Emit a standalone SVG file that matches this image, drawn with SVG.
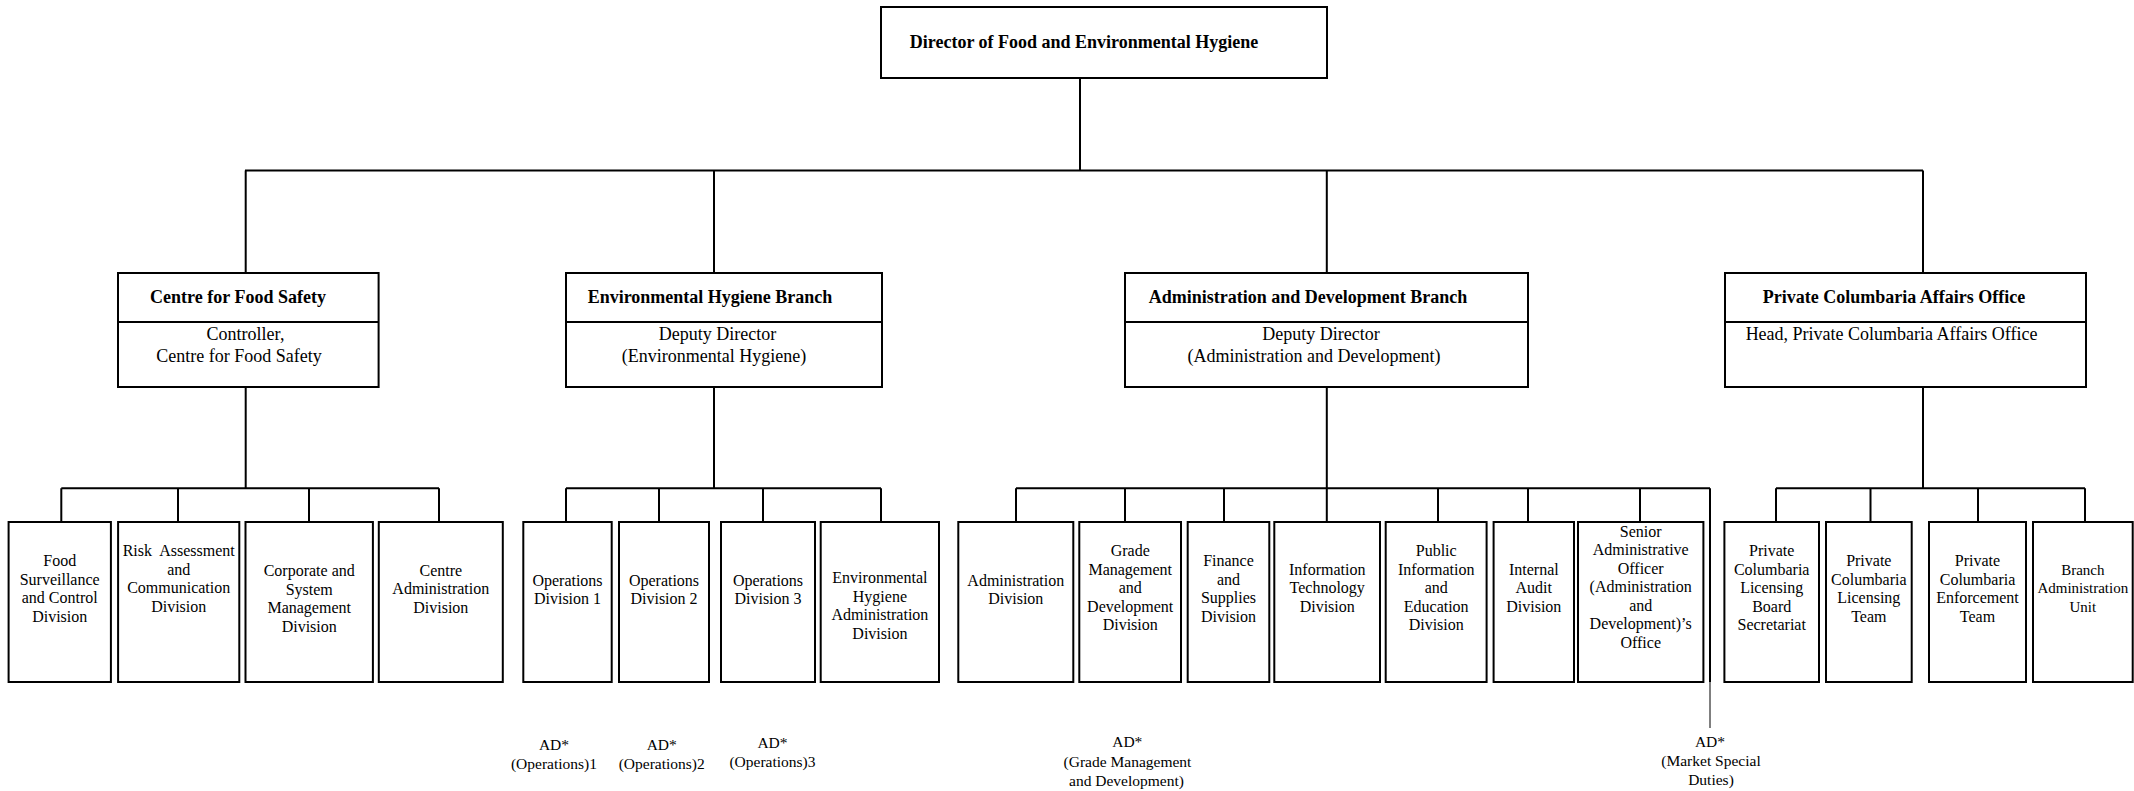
<svg xmlns="http://www.w3.org/2000/svg" width="2134" height="791" viewBox="0 0 2134 791">
<style>
.box{fill:#fff;stroke:#000;stroke-width:2}
.ln{fill:none;stroke:#000;stroke-width:2}
.thin{fill:none;stroke:#000;stroke-width:1}
text{font-family:"Liberation Serif","Times New Roman",serif;fill:#000;text-anchor:middle}
.t{font-size:18px;font-weight:bold}
.s{font-size:18px}
.d{font-size:16px}
.b{font-size:15px}
.a{font-size:15.5px}
</style>
<rect width="2134" height="791" fill="#fff"/>
<g id="connectors">
<path class="ln" d="M1080,78V170.5M245,170.5H1923M245.7,170.5V273M714,170.5V273M1326.8,170.5V273M1923,170.5V273"/>
<path class="ln" d="M245.7,387V488.3M61.3,488.3H439M61.3,488.3V522M178,488.3V522M309,488.3V522M439,488.3V522"/>
<path class="ln" d="M714,387V488.3M566,488.3H881M566,488.3V522M659,488.3V522M763,488.3V522M881,488.3V522"/>
<path class="ln" d="M1326.8,387V522M1016,488.3H1710M1016,488.3V522M1125,488.3V522M1224,488.3V522M1438,488.3V522M1528,488.3V522M1640,488.3V522M1710,488.3V682"/>
<path class="thin" d="M1710,682V728"/>
<path class="ln" d="M1923,387V488.3M1776,488.3H2085M1776,488.3V522M1870.5,488.3V522M1978,488.3V522M2085,488.3V522"/>
</g>
<g id="director">
<rect class="box" x="881" y="7" width="446" height="71"/>
<text class="t" x="1084" y="48">Director of Food and Environmental Hygiene</text>
</g>
<g id="cfs">
<rect class="box" x="118" y="273" width="260.6" height="114"/>
<path class="ln" d="M118,322H378.6"/>
<text class="t" x="238" y="303">Centre for Food Safety</text>
<text class="s" x="245.5" y="340">Controller,</text>
<text class="s" x="239" y="361.5">Centre for Food Safety</text>
</g>
<g id="ehb">
<rect class="box" x="566" y="273" width="316" height="114"/>
<path class="ln" d="M566,322H882"/>
<text class="t" x="710" y="303">Environmental Hygiene Branch</text>
<text class="s" x="717.5" y="340">Deputy Director</text>
<text class="s" x="714" y="361.5">(Environmental Hygiene)</text>
</g>
<g id="adb">
<rect class="box" x="1125" y="273" width="403" height="114"/>
<path class="ln" d="M1125,322H1528"/>
<text class="t" x="1308" y="303">Administration and Development Branch</text>
<text class="s" x="1321" y="340">Deputy Director</text>
<text class="s" x="1314" y="361.5">(Administration and Development)</text>
</g>
<g id="pcao">
<rect class="box" x="1725" y="273" width="361" height="114"/>
<path class="ln" d="M1725,322H2086"/>
<text class="t" x="1894" y="303">Private Columbaria Affairs Office</text>
<text class="s" x="1891.5" y="340">Head, Private Columbaria Affairs Office</text>
</g>
<g id="fscd">
<rect class="box" x="8.6" y="522" width="102.3" height="160"/>
<text class="d" x="59.7" y="566.25">Food</text>
<text class="d" x="59.7" y="584.75">Surveillance</text>
<text class="d" x="59.7" y="603.25">and Control</text>
<text class="d" x="59.7" y="621.75">Division</text>
</g>
<g id="racd">
<rect class="box" x="118.1" y="522" width="121.2" height="160"/>
<text class="d" x="178.7" y="556.25" style="white-space:pre">Risk  Assessment</text>
<text class="d" x="178.7" y="574.75">and</text>
<text class="d" x="178.7" y="593.25">Communication</text>
<text class="d" x="178.7" y="611.75">Division</text>
</g>
<g id="csmd">
<rect class="box" x="245.5" y="522" width="127.4" height="160"/>
<text class="d" x="309.2" y="576.25">Corporate and</text>
<text class="d" x="309.2" y="594.75">System</text>
<text class="d" x="309.2" y="613.25">Management</text>
<text class="d" x="309.2" y="631.75">Division</text>
</g>
<g id="cad">
<rect class="box" x="378.8" y="522" width="124" height="160"/>
<text class="d" x="440.8" y="575.5">Centre</text>
<text class="d" x="440.8" y="594">Administration</text>
<text class="d" x="440.8" y="612.5">Division</text>
</g>
<g id="od1">
<rect class="box" x="523.3" y="522" width="88.4" height="160"/>
<text class="d" x="567.5" y="585.75">Operations</text>
<text class="d" x="567.5" y="604.25">Division 1</text>
</g>
<g id="od2">
<rect class="box" x="619" y="522" width="90" height="160"/>
<text class="d" x="664" y="585.75">Operations</text>
<text class="d" x="664" y="604.25">Division 2</text>
</g>
<g id="od3">
<rect class="box" x="721" y="522" width="94" height="160"/>
<text class="d" x="768" y="585.75">Operations</text>
<text class="d" x="768" y="604.25">Division 3</text>
</g>
<g id="ehad">
<rect class="box" x="820.7" y="522" width="118.3" height="160"/>
<text class="d" x="879.9" y="583.25">Environmental</text>
<text class="d" x="879.9" y="601.75">Hygiene</text>
<text class="d" x="879.9" y="620.25">Administration</text>
<text class="d" x="879.9" y="638.75">Division</text>
</g>
<g id="admd">
<rect class="box" x="958.3" y="522" width="115" height="160"/>
<text class="d" x="1015.8" y="585.75">Administration</text>
<text class="d" x="1015.8" y="604.25">Division</text>
</g>
<g id="gmdd">
<rect class="box" x="1079.3" y="522" width="101.7" height="160"/>
<text class="d" x="1130.2" y="556">Grade</text>
<text class="d" x="1130.2" y="574.5">Management</text>
<text class="d" x="1130.2" y="593">and</text>
<text class="d" x="1130.2" y="611.5">Development</text>
<text class="d" x="1130.2" y="630">Division</text>
</g>
<g id="fsd">
<rect class="box" x="1187.7" y="522" width="81.6" height="160"/>
<text class="d" x="1228.5" y="566.25">Finance</text>
<text class="d" x="1228.5" y="584.75">and</text>
<text class="d" x="1228.5" y="603.25">Supplies</text>
<text class="d" x="1228.5" y="621.75">Division</text>
</g>
<g id="itd">
<rect class="box" x="1274.3" y="522" width="105.7" height="160"/>
<text class="d" x="1327.2" y="574.5">Information</text>
<text class="d" x="1327.2" y="593">Technology</text>
<text class="d" x="1327.2" y="611.5">Division</text>
</g>
<g id="pied">
<rect class="box" x="1385.7" y="522" width="100.9" height="160"/>
<text class="d" x="1436.2" y="556">Public</text>
<text class="d" x="1436.2" y="574.5">Information</text>
<text class="d" x="1436.2" y="593">and</text>
<text class="d" x="1436.2" y="611.5">Education</text>
<text class="d" x="1436.2" y="630">Division</text>
</g>
<g id="iad">
<rect class="box" x="1493.6" y="522" width="80.4" height="160"/>
<text class="d" x="1533.8" y="574.5">Internal</text>
<text class="d" x="1533.8" y="593">Audit</text>
<text class="d" x="1533.8" y="611.5">Division</text>
</g>
<g id="saoo">
<rect class="box" x="1578" y="522" width="125.4" height="160"/>
<text class="d" x="1640.7" y="536.5">Senior</text>
<text class="d" x="1640.7" y="555">Administrative</text>
<text class="d" x="1640.7" y="573.5">Officer</text>
<text class="d" x="1640.7" y="592">(Administration</text>
<text class="d" x="1640.7" y="610.5">and</text>
<text class="d" x="1640.7" y="629">Development)’s</text>
<text class="d" x="1640.7" y="647.5">Office</text>
</g>
<g id="pclbs">
<rect class="box" x="1724.4" y="522" width="94.6" height="160"/>
<text class="d" x="1771.7" y="556">Private</text>
<text class="d" x="1771.7" y="574.5">Columbaria</text>
<text class="d" x="1771.7" y="593">Licensing</text>
<text class="d" x="1771.7" y="611.5">Board</text>
<text class="d" x="1771.7" y="630">Secretariat</text>
</g>
<g id="pclt">
<rect class="box" x="1826" y="522" width="85.7" height="160"/>
<text class="d" x="1868.8" y="566.25">Private</text>
<text class="d" x="1868.8" y="584.75">Columbaria</text>
<text class="d" x="1868.8" y="603.25">Licensing</text>
<text class="d" x="1868.8" y="621.75">Team</text>
</g>
<g id="pcet">
<rect class="box" x="1929" y="522" width="97" height="160"/>
<text class="d" x="1977.5" y="566.25">Private</text>
<text class="d" x="1977.5" y="584.75">Columbaria</text>
<text class="d" x="1977.5" y="603.25">Enforcement</text>
<text class="d" x="1977.5" y="621.75">Team</text>
</g>
<g id="bau">
<rect class="box" x="2033" y="522" width="99.7" height="160"/>
<text class="b" x="2082.8" y="574.5">Branch</text>
<text class="b" x="2082.8" y="593">Administration</text>
<text class="b" x="2082.8" y="611.5">Unit</text>
</g>
<g id="ad-ops1">
<text class="a" x="554" y="749.5">AD*</text>
<text class="a" x="554" y="768.5">(Operations)1</text>
</g>
<g id="ad-ops2">
<text class="a" x="661.7" y="749.5">AD*</text>
<text class="a" x="661.7" y="768.5">(Operations)2</text>
</g>
<g id="ad-ops3">
<text class="a" x="772.5" y="748">AD*</text>
<text class="a" x="772.5" y="767">(Operations)3</text>
</g>
<g id="ad-gmd">
<text class="a" x="1127.3" y="747.3">AD*</text>
<text class="a" x="1127.5" y="766.7">(Grade Management</text>
<text class="a" x="1126.5" y="785.7">and Development)</text>
</g>
<g id="ad-msd">
<text class="a" x="1710" y="747">AD*</text>
<text class="a" x="1711" y="766">(Market Special</text>
<text class="a" x="1711" y="785">Duties)</text>
</g>
</svg>
